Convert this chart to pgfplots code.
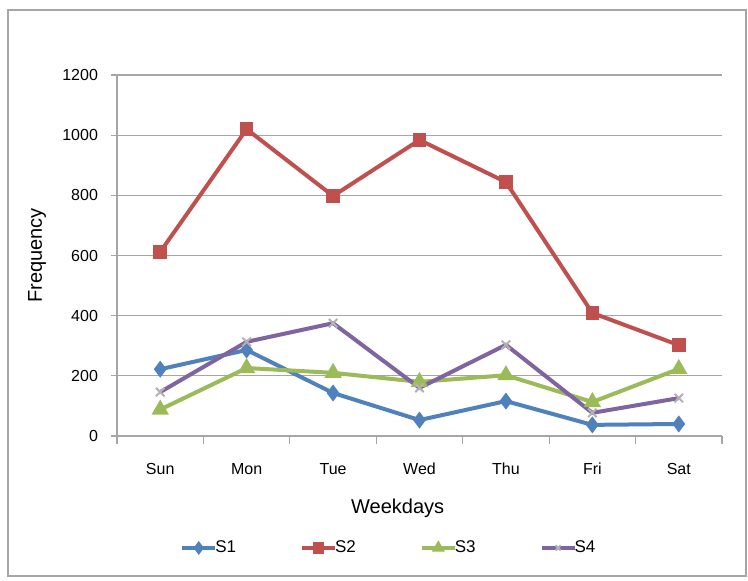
\documentclass[border=0pt]{standalone}
\usepackage{pgfplots}
\pgfplotsset{compat=1.18}
\usepackage{fontspec}
\setmainfont{Liberation Sans}

\definecolor{sone}{HTML}{4F81BD}
\definecolor{stwo}{HTML}{C0504D}
\definecolor{sthree}{HTML}{9BBB59}
\definecolor{sfour}{HTML}{8064A2}
\definecolor{gridgray}{HTML}{A6A6A6}

\begin{document}
\begin{tikzpicture}
% outer frame (1px = 0.5pt, axis origin at pixel (117,436))
\path[use as bounding box] (-58.5pt,218pt) rectangle (315.5pt,-72pt);
\draw[gray!70, line width=0.8pt] (-54.5pt,213pt) rectangle (314.5pt,-70pt);
\begin{axis}[
    scale only axis,
    width=302.5pt, height=180.5pt,
    xmin=-0.5, xmax=6.5,
    ymin=0, ymax=1200,
    ytick={0,200,...,1200},
    xtick={0,...,6},
    xticklabels={Sun,Mon,Tue,Wed,Thu,Fri,Sat},
    minor xtick={-0.5,0.5,...,6.5},
    major x tick style={draw=none},
    minor x tick style={gridgray, line width=0.6pt},
    minor tick length=4pt,
    major tick length=3pt,
    ytick style={gridgray, line width=0.6pt},
    tick align=outside,
    axis x line*=bottom, axis y line*=left,
    axis line style={gridgray, line width=0.8pt, -},
    ymajorgrids,
    grid style={gridgray, line width=0.6pt},
    /pgf/number format/assume math mode=true,
    /pgf/number format/1000 sep={},
    tick label style={font=\fontsize{8}{10}\selectfont},
    xticklabel style={yshift=-7pt},
    yticklabel style={xshift=-3pt},
    xlabel={Weekdays}, ylabel={Frequency},
    label style={font=\fontsize{11}{13}\selectfont},
    every axis x label/.style={at={(axis description cs:0.464,-0.2)}, anchor=center},
    every axis y label/.style={at={(axis description cs:-0.132,0.5)}, rotate=90, anchor=center},
    legend columns=4,
    legend style={at={(axis description cs:0.451,-0.31)}, anchor=center, draw=none,
        font=\fontsize{8.5}{10}\selectfont,
        /tikz/every odd column/.append style={column sep=-3pt},
        /tikz/every even column/.append style={column sep=30pt}},
    legend image code/.code={\draw[mark repeat=2,mark phase=2, mark size=1.8pt] plot coordinates {(0cm,0cm)(0.29cm,0cm)(0.58cm,0cm)};},
    every axis plot/.append style={line width=2pt, mark size=2.6pt},
]
\addplot[sone, mark=diamond*] coordinates {(0,222) (1,286) (2,143) (3,53) (4,116) (5,37) (6,40)};
\addlegendentry{S1}
\addplot[stwo, mark=square*, mark size=2.4pt] coordinates {(0,612) (1,1020) (2,798) (3,984) (4,844) (5,409) (6,302)};
\addlegendentry{S2}
\addplot[sthree, mark=triangle*, mark size=3pt] coordinates {(0,88) (1,226) (2,210) (3,180) (4,202) (5,113) (6,223)};
\addlegendentry{S3}
\addplot[sfour, mark=x, mark size=3pt, mark options={line width=1pt, gray!60}] coordinates {(0,146) (1,313) (2,375) (3,160) (4,303) (5,77) (6,126)};
\addlegendentry{S4}
\end{axis}
\end{tikzpicture}
\end{document}
